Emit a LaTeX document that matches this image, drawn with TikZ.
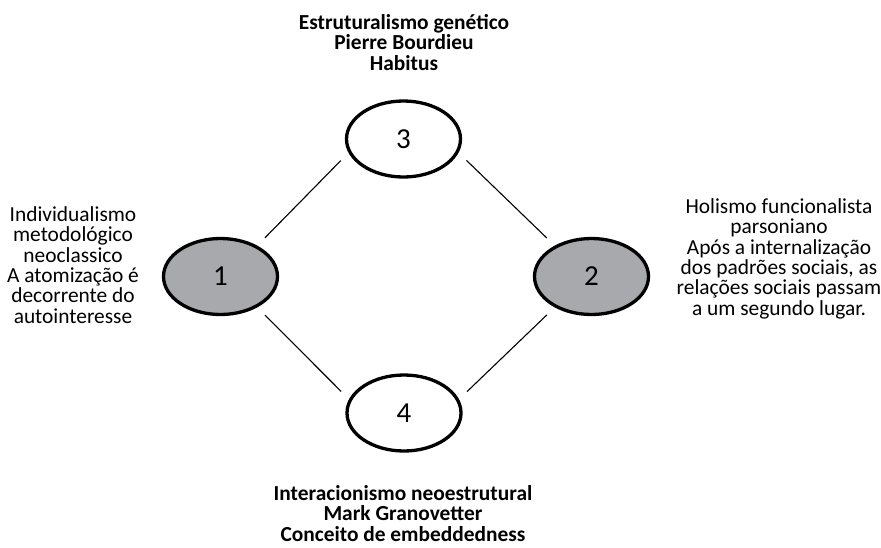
\documentclass[tikz,border=0pt]{standalone}
\usepackage{fontspec}
\setmainfont{Carlito}
\usetikzlibrary{shapes.geometric}
\begin{document}
\begin{tikzpicture}[x=1pt,y=-1pt,
  pole/.style={draw,ellipse,line width=3.3pt,minimum width=114pt,minimum height=76pt,inner sep=0pt,font=\fontsize{29}{30}\selectfont},
  shaded/.style={fill={rgb,255:red,168;green,169;blue,172}},
  link/.style={line width=1.1pt,shorten <=11pt,shorten >=11pt},
  theory/.style={align=center,anchor=base,inner sep=0pt,font=\fontsize{21.4}{20.3}\selectfont},
  bold theory/.style={theory,font=\fontsize{21.4}{20.3}\selectfont\bfseries}]
\useasboundingbox (0,0) rectangle (881,547);

%%%Poles 1 to 4
\foreach \n/\x/\y/\s in {1/220.5/276.5/shaded,2/591.5/276.5/shaded,3/403.5/139/,4/404/413/}
  \node[pole,\s] (n\n) at (\x,\y) {\n};

%%%Links between the poles
\draw[link] (n3.194) -- (n1.40);
\draw[link] (n3.346) -- (n2.140);
\draw[link] (n1.320) -- (n4.166);
\draw[link] (n4.14) -- (n2.220);

%%%Texts of the poles (anchored at the last baseline)
%Top and bottom, bold
\node[bold theory] (t3) at (404,70) {Estruturalismo genético\\Pierre Bourdieu\\Habitus};
\node[bold theory] (t4) at (403,541) {Interacionismo neoestrutural\\Mark Granovetter\\Conceito de embeddedness};
%Left and right
\node[theory] (t1) at (73,323) {Individualismo\\metodológico\\neoclassico\\A atomização é\\decorrente do\\autointeresse};
\node[theory] (t2) at (779,315) {Holismo funcionalista\\parsoniano\\Após a internalização\\dos padrões sociais, as\\relações sociais passam\\a um segundo lugar.};

\end{tikzpicture}
\end{document}
